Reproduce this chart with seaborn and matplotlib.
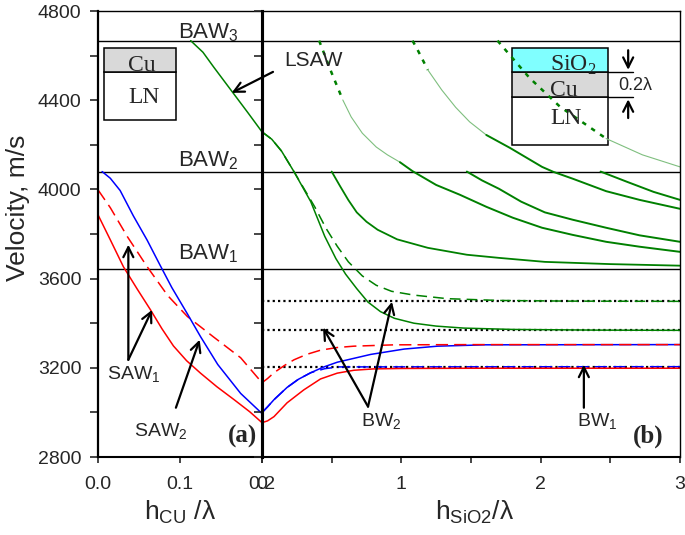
import matplotlib
matplotlib.use("Agg")
import matplotlib.pyplot as plt
from matplotlib.patches import Rectangle
import seaborn as sns

# bulk acoustic wave levels (m/s)
baw_levels = [3644, 4080, 4667]
baw_names = ["BAW$_\\mathregular{1}$", "BAW$_\\mathregular{2}$", "BAW$_\\mathregular{3}$"]
# asymptotes of the bulk-type modes in panel (b)
bw_levels = [3205, 3368, 3498]

# ---- panel (a): Cu film on LN, x = h_Cu / lambda
a_red_x = [0, 0.015, 0.031, 0.048, 0.064, 0.078, 0.092, 0.108, 0.125, 0.145, 0.166, 0.185, 0.2]
a_red_y = [3886, 3774, 3653, 3552, 3460, 3375, 3298, 3232, 3176, 3115, 3057, 3003, 2954]
a_red_dash_x = [0, 0.015, 0.036, 0.06, 0.085, 0.109, 0.141, 0.174, 0.2]
a_red_dash_y = [3998, 3918, 3787, 3653, 3524, 3430, 3338, 3245, 3133]
a_blue_x = [0.005, 0.015, 0.027, 0.043, 0.06, 0.075, 0.09, 0.109, 0.125, 0.146, 0.174, 0.2]
a_blue_y = [4080, 4050, 3995, 3882, 3772, 3665, 3560, 3442, 3340, 3215, 3085, 2995]
a_lsaw_x = [0.113, 0.128, 0.141, 0.162, 0.183, 0.2]
a_lsaw_y = [4667, 4615, 4549, 4446, 4343, 4258]

# ---- panel (b): SiO2 on 0.2 lambda Cu on LN, x = h_SiO2 / lambda
b_red_x = [0, 0.04, 0.086, 0.18, 0.30, 0.42, 0.54, 0.66, 0.8, 1.0, 1.5, 3.0]
b_red_y = [2954, 2962, 2981, 3043, 3101, 3150, 3176, 3189, 3195, 3197, 3198, 3198]
b_red_dash_x = [0, 0.04, 0.086, 0.16, 0.23, 0.32, 0.42, 0.54, 0.66, 0.95, 1.49, 3.0]
b_red_dash_y = [3133, 3152, 3178, 3210, 3236, 3260, 3279, 3291, 3297, 3303, 3304, 3304]
b_blue_x = [0, 0.04, 0.086, 0.18, 0.26, 0.35, 0.44, 0.54, 0.78, 1.02, 1.26, 1.6, 3.0]
b_blue_y = [2999, 3025, 3057, 3112, 3148, 3178, 3203, 3225, 3260, 3284, 3297, 3303, 3304]
b_blue_dash_x = [0, 0.04, 0.086, 0.18, 0.26, 0.35, 0.45, 0.55, 3.0]
b_blue_dash_y = [2999, 3025, 3057, 3112, 3148, 3178, 3196, 3204, 3205]

g_lsaw_x = [0, 0.07, 0.14, 0.23, 0.35, 0.45, 0.53, 0.6, 0.68, 0.76, 0.85, 0.95,
            1.09, 1.25, 1.45, 1.8, 2.4, 3.0]
g_lsaw_y = [4258, 4225, 4172, 4079, 3945, 3790, 3690, 3620, 3555, 3495, 3452, 3422,
            3400, 3387, 3378, 3372, 3369, 3368]
g_dash_x = [0, 0.07, 0.14, 0.23, 0.3, 0.38, 0.46, 0.54, 0.62, 0.72, 0.82, 0.93,
            1.09, 1.33, 1.7, 2.2, 3.0]
g_dash_y = [4258, 4225, 4172, 4079, 4005, 3920, 3825, 3745, 3675, 3612, 3570, 3543,
            3526, 3510, 3502, 3499, 3498]
g2_x = [0.5, 0.56, 0.62, 0.68, 0.75, 0.83, 0.97, 1.19, 1.47, 1.7, 2.03, 2.5, 3.0]
g2_y = [4080, 4015, 3952, 3897, 3855, 3819, 3776, 3738, 3707, 3693, 3675, 3665, 3658]

ga_dot_x = [0.41, 0.50, 0.58]
ga_dot_y = [4667, 4522, 4401]
ga_thin_x = [0.58, 0.64, 0.72, 0.82, 0.9, 0.99]
ga_thin_y = [4401, 4325, 4252, 4190, 4155, 4122]
ga_x = [0.99, 1.08, 1.25, 1.42, 1.61, 1.80, 2.01, 2.23, 2.47, 2.71, 3.0]
ga_y = [4122, 4082, 4020, 3976, 3922, 3873, 3828, 3796, 3765, 3743, 3720]

gb_dot_x = [1.08, 1.11, 1.19]
gb_dot_y = [4667, 4634, 4536]
gb_thin_x = [1.19, 1.29, 1.39, 1.49, 1.61]
gb_thin_y = [4536, 4446, 4368, 4303, 4244]
gb_x = [1.61, 1.78, 2.01, 2.09, 2.23, 2.47, 2.71, 3.0]
gb_y = [4244, 4186, 4101, 4079, 4048, 3992, 3953, 3913]

gc_x = [2.43, 2.62, 2.81, 3.0]
gc_y = [4080, 4034, 3989, 3953]

gd_dot_x = [1.69, 1.92, 2.14, 2.47]
gd_dot_y = [4667, 4500, 4370, 4228]
gd_thin_x = [2.47, 2.73, 3.0]
gd_thin_y = [4228, 4155, 4101]

ge_x = [1.47, 1.58, 1.70, 1.86, 2.03, 2.23, 2.47, 2.71, 3.0]
ge_y = [4080, 4040, 4003, 3945, 3897, 3864, 3828, 3794, 3765]

RED = "#ff0000"
BLUE = "#0000ff"
GREEN = "#008000"
LIGHT_GREEN = "#7fbf7f"
SERIF = ["Liberation Serif", "DejaVu Serif"]

sns.set_style("ticks")
plt.rcParams["font.family"] = ["Liberation Sans", "DejaVu Sans"]


def line(ax, xs, ys, color, lw=1.1, ls="-"):
    sns.lineplot(x=xs, y=ys, ax=ax, color=color, lw=lw, linestyle=ls,
                 estimator=None, sort=False, legend=False)


def arrow(ax, head, tail, head_tr=None, tail_tr=None):
    ax.annotate("", xy=head, xytext=tail,
                xycoords=head_tr or ax.transData, textcoords=tail_tr or ax.transData,
                annotation_clip=False,
                arrowprops=dict(arrowstyle="->", lw=1.6, color="black",
                                mutation_scale=18, shrinkA=0, shrinkB=0))


fig = plt.figure(figsize=(6.85, 5.35), dpi=100)
ax_l = fig.add_axes([98 / 685, 78 / 535, 164 / 685, 446 / 535])
ax_r = fig.add_axes([262 / 685, 78 / 535, 418 / 685, 446 / 535])

dash_long = (0, (8, 4))
dash_green = (0, (7, 4))
dotted_black = (0, (1.0, 1.4))
dotted_green = (0, (1.8, 2.5))

# ---- panel (a)
for lvl in baw_levels:
    ax_l.axhline(lvl, color="black", lw=1.0)
line(ax_l, a_red_x, a_red_y, RED)
line(ax_l, a_red_dash_x, a_red_dash_y, RED, ls=dash_long)
line(ax_l, a_blue_x, a_blue_y, BLUE)
line(ax_l, a_lsaw_x, a_lsaw_y, GREEN)

# ---- panel (b)
for lvl in baw_levels:
    ax_r.axhline(lvl, color="black", lw=1.0)
for lvl in bw_levels:
    ax_r.axhline(lvl, color="black", lw=1.6, linestyle=dotted_black)

line(ax_r, g_lsaw_x, g_lsaw_y, GREEN)
line(ax_r, g_dash_x, g_dash_y, GREEN, ls=dash_green)
line(ax_r, g2_x, g2_y, GREEN, lw=1.3)
for dx, dy, tx, ty, sx, sy in [(ga_dot_x, ga_dot_y, ga_thin_x, ga_thin_y, ga_x, ga_y),
                               (gb_dot_x, gb_dot_y, gb_thin_x, gb_thin_y, gb_x, gb_y)]:
    line(ax_r, dx, dy, GREEN, lw=1.8, ls=dotted_green)
    line(ax_r, tx, ty, LIGHT_GREEN, lw=0.8)
    line(ax_r, sx, sy, GREEN, lw=1.4)
line(ax_r, gc_x, gc_y, GREEN, lw=1.4)
line(ax_r, ge_x, ge_y, GREEN, lw=1.4)
line(ax_r, gd_dot_x, gd_dot_y, GREEN, lw=1.8, ls=dotted_green)
line(ax_r, gd_thin_x, gd_thin_y, LIGHT_GREEN, lw=0.8)

line(ax_r, b_blue_dash_x, b_blue_dash_y, BLUE, ls=dash_long)
line(ax_r, b_red_x, b_red_y, RED)
line(ax_r, b_blue_x, b_blue_y, BLUE)
line(ax_r, b_red_dash_x, b_red_dash_y, RED, ls=dash_long)

# ---- axes styling
yt = list(range(2800, 4801, 200))
for ax in (ax_l, ax_r):
    ax.set_ylim(2800, 4800)
    ax.set_yticks(yt)
    ax.set_xlabel("")
    ax.set_ylabel("")
    ax.set_facecolor("none")
    ax.tick_params(axis="y", direction="out", length=6, width=1.2, pad=6, labelsize=14)
    ax.tick_params(axis="x", direction="out", length=4, width=1.2, pad=10, labelsize=14)
    for side in ("top", "right", "left", "bottom"):
        ax.spines[side].set_visible(True)
        ax.spines[side].set_color("black")
    ax.spines["top"].set_linewidth(1.0)
    ax.spines["bottom"].set_linewidth(1.5)

ax_l.set_xlim(0, 0.2)
ax_l.set_xticks([0, 0.1, 0.2])
ax_l.set_xticklabels(["0.0", "0.1", "0.2"])
ax_l.set_yticklabels([str(v) if (v - 2800) % 400 == 0 else "" for v in yt])
ax_l.spines["left"].set_linewidth(1.6)
ax_l.spines["right"].set_linewidth(2.2)

ax_r.set_xlim(0, 3)
ax_r.set_xticks([0, 0.5, 1, 1.5, 2, 2.5, 3])
ax_r.set_xticklabels(["0", "", "1", "", "2", "", "3"])
ax_r.tick_params(axis="y", labelleft=False)
ax_r.spines["left"].set_linewidth(2.2)
ax_r.spines["right"].set_linewidth(1.0)

fig.text(0.026, 0.611, "Velocity, m/s", rotation=90, ha="center", va="center", fontsize=19)
fig.text(0.263, 0.043, "h$_\\mathregular{CU}$ /λ", ha="center", va="center", fontsize=19)
fig.text(0.693, 0.043, "h$_\\mathregular{SiO2}$/λ", ha="center", va="center", fontsize=19)

# ---- labels in panel (a)
baw_text_y = [3684, 4101, 4679]
for name, ty in zip(baw_names, baw_text_y):
    ax_l.text(0.135, ty, name, ha="center", va="baseline", fontsize=16)
ax_l.text(0.043, 3169, "SAW$_\\mathregular{1}$", ha="center", va="center", fontsize=14)
ax_l.text(0.076, 2914, "SAW$_\\mathregular{2}$", ha="center", va="center", fontsize=14)
ax_l.text(0.176, 2891, "(a)", ha="center", va="center", fontsize=18,
          fontweight="bold", family=SERIF)
arrow(ax_l, (0.037, 3752), (0.037, 3236))
arrow(ax_l, (0.066, 3460), (0.037, 3236))
arrow(ax_l, (0.124, 3326), (0.095, 3021))

# ---- labels in panel (b)
ax_r.text(0.373, 4580, "LSAW", ha="center", va="center", fontsize=15)
arrow(ax_r, (0.163, 4433), (0.079, 4527), head_tr=ax_l.transData)
ax_r.text(0.854, 2959, "BW$_\\mathregular{2}$", ha="center", va="center", fontsize=14)
arrow(ax_r, (0.438, 3380), (0.761, 3026))
arrow(ax_r, (0.933, 3496), (0.761, 3026))
ax_r.text(2.405, 2959, "BW$_\\mathregular{1}$", ha="center", va="center", fontsize=14)
arrow(ax_r, (2.31, 3214), (2.31, 3021))
ax_r.text(2.77, 2891, "(b)", ha="center", va="center", fontsize=18,
          fontweight="bold", family=SERIF)

# ---- layer sketches
box_kw = dict(edgecolor="black", lw=1.1, zorder=1.5)
ax_l.add_patch(Rectangle((0.037, 0.756), 0.439, 0.107, transform=ax_l.transAxes,
                         facecolor="white", **box_kw))
ax_l.add_patch(Rectangle((0.037, 0.863), 0.439, 0.054, transform=ax_l.transAxes,
                         facecolor="#d9d9d9", **box_kw))
ax_l.text(0.183, 0.866, "Cu", transform=ax_l.transAxes, ha="left", va="baseline",
          fontsize=17, family=SERIF)
ax_l.text(0.183, 0.807, "LN", transform=ax_l.transAxes, ha="left", va="center",
          fontsize=17, family=SERIF)

ax_r.add_patch(Rectangle((0.598, 0.700), 0.230, 0.107, transform=ax_r.transAxes,
                         facecolor="none", **box_kw))
ax_r.add_patch(Rectangle((0.598, 0.807), 0.230, 0.056, transform=ax_r.transAxes,
                         facecolor="#d9d9d9", **box_kw))
ax_r.add_patch(Rectangle((0.598, 0.863), 0.230, 0.054, transform=ax_r.transAxes,
                         facecolor="#80ffff", **box_kw))
ax_r.text(0.689, 0.866, "SiO$_\\mathregular{2}$", transform=ax_r.transAxes, ha="left",
          va="baseline", fontsize=17, family=SERIF)
ax_r.text(0.689, 0.810, "Cu", transform=ax_r.transAxes, ha="left", va="baseline",
          fontsize=17, family=SERIF)
ax_r.text(0.689, 0.760, "LN", transform=ax_r.transAxes, ha="left", va="center",
          fontsize=17, family=SERIF)
for yy in (0.863, 0.807):
    ax_r.plot([0.828, 0.888], [yy, yy], transform=ax_r.transAxes, color="black", lw=1.0)
arrow(ax_r, (0.876, 0.868), (0.876, 0.912), head_tr=ax_r.transAxes, tail_tr=ax_r.transAxes)
arrow(ax_r, (0.876, 0.802), (0.876, 0.760), head_tr=ax_r.transAxes, tail_tr=ax_r.transAxes)
ax_r.text(0.894, 0.834, "0.2λ", transform=ax_r.transAxes, ha="center", va="center",
          fontsize=13)

fig.savefig("out.png", dpi=100)
